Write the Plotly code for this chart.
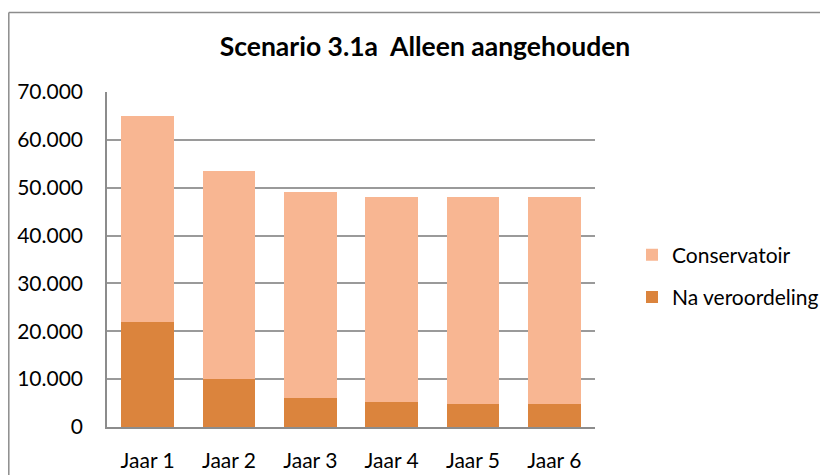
import plotly.graph_objects as go

categories = ["Jaar 1", "Jaar 2", "Jaar 3", "Jaar 4", "Jaar 5", "Jaar 6"]
na_veroordeling = [22000, 10000, 6100, 5200, 4900, 4900]
conservatoir = [43000, 43500, 43100, 42900, 43200, 43200]
tick_vals = [0, 10000, 20000, 30000, 40000, 50000, 60000, 70000]
tick_text = ["0", "10.000", "20.000", "30.000", "40.000", "50.000", "60.000", "70.000"]

OFF = 8  # page offset of the figure in the browser
W, H = 820, 467
L, R, T, B = 107 - OFF, 595 - OFF, 92 - OFF, 427 - OFF

def px_x(p):
    return (p - OFF - L) / (R - L)

def px_y(p):
    return (B - (p - OFF)) / (B - T)

FONT = "Lato, Calibri, Carlito, sans-serif"

fig = go.Figure()
fig.add_trace(go.Bar(x=categories, y=na_veroordeling, name="Na veroordeling",
                     marker=dict(color="#DB843D", line=dict(width=0)),
                     legendgroup="a", legendrank=2))
fig.add_trace(go.Bar(x=categories, y=conservatoir, name="Conservatoir",
                     marker=dict(color="#F8B692", line=dict(width=0)),
                     legendgroup="b", legendrank=1))

fig.update_layout(
    width=W, height=H,
    barmode="stack", bargap=0.35,
    plot_bgcolor="white", paper_bgcolor="white",
    margin=dict(l=L, r=W - R, t=T, b=H - B, autoexpand=False),
    font=dict(family=FONT, size=21, color="#000000"),
    title=dict(text="<b>Scenario 3.1a  Alleen aangehouden</b>",
               x=(425 - OFF) / W, xanchor="center", xref="container",
               y=1 - (47 - OFF) / H, yanchor="middle", yref="container",
               font=dict(family=FONT, size=26.5, color="#000000")),
    legend=dict(x=px_x(632), xanchor="left", y=px_y(276), yanchor="middle",
                traceorder="grouped", tracegroupgap=12,
                font=dict(family=FONT, size=21), bgcolor="rgba(0,0,0,0)"),
    xaxis=dict(showline=True, linecolor="#8c8c8c", linewidth=1.5,
               ticks="", showgrid=False, ticklabelstandoff=14,
               tickfont=dict(family=FONT, size=21)),
    yaxis=dict(range=[0, 70000], tickvals=tick_vals, ticktext=tick_text,
               showgrid=True, gridcolor="#9a9a9a", gridwidth=1.5,
               showline=True, linecolor="#8c8c8c", linewidth=1.5,
               zeroline=False, ticks="", ticklabelstandoff=18,
               tickfont=dict(family=FONT, size=21)),
    shapes=[
        dict(type="line", xref="paper", yref="paper",
             x0=px_x(8.8), x1=px_x(828), y0=px_y(12.5), y1=px_y(12.5),
             line=dict(color="#8c8c8c", width=1.5)),
        dict(type="line", xref="paper", yref="paper",
             x0=px_x(8.8), x1=px_x(8.8), y0=px_y(12.5), y1=px_y(475),
             line=dict(color="#8c8c8c", width=1.5)),
    ],
)

fig.write_html("out.html", config={"displayModeBar": False})
